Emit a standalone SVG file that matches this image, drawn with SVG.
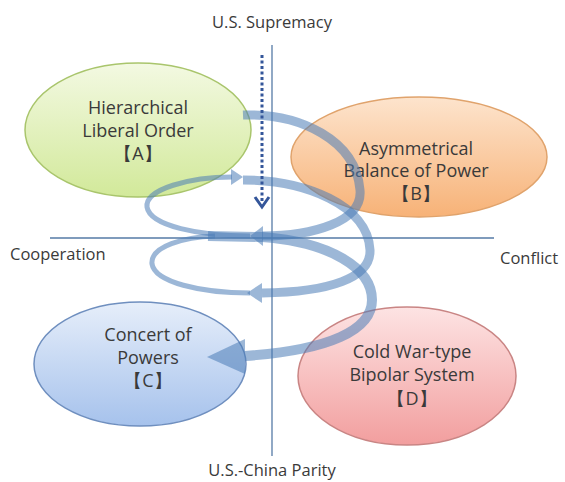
<svg xmlns="http://www.w3.org/2000/svg" width="565" height="482" viewBox="0 0 565 482">
<defs>
<linearGradient id="gA" x1="0" y1="0" x2="0" y2="1"><stop offset="0" stop-color="#f3f9e2"/><stop offset="1" stop-color="#d2e99a"/></linearGradient>
<linearGradient id="gB" x1="0" y1="0" x2="0" y2="1"><stop offset="0" stop-color="#fde4cd"/><stop offset="1" stop-color="#f7b277"/></linearGradient>
<linearGradient id="gC" x1="0" y1="0" x2="0" y2="1"><stop offset="0" stop-color="#e6eefa"/><stop offset="1" stop-color="#a6c2ec"/></linearGradient>
<linearGradient id="gD" x1="0" y1="0" x2="0" y2="1"><stop offset="0" stop-color="#fde3e3"/><stop offset="1" stop-color="#f29e9e"/></linearGradient>
</defs>
<style>
.lbl{font-family:"Open Sans","Liberation Sans",sans-serif;font-size:18px;fill:#3a3a3a;text-anchor:middle}
.ax{font-family:"Open Sans","Liberation Sans",sans-serif;font-size:16.5px;fill:#3a3a3a}
.axis{stroke:#557aa6;stroke-width:1.3;fill:none}
.band{fill:none;stroke:#4a7bb7;stroke-opacity:0.55}
.head{fill:#4a7bb7;fill-opacity:0.55}
</style>
<rect width="565" height="482" fill="#ffffff"/>
<g id="axes">
<line class="axis" x1="272" y1="45" x2="272" y2="456"/>
<line class="axis" x1="50" y1="238" x2="494" y2="238"/>
<text class="ax" x="272" y="28" text-anchor="middle">U.S. Supremacy</text>
<text class="ax" x="272" y="476" text-anchor="middle">U.S.-China Parity</text>
<text class="ax" x="10" y="260">Cooperation</text>
<text class="ax" x="500" y="264">Conflict</text>
</g>
<g id="nodeA">
<ellipse cx="138" cy="130" rx="113" ry="67" fill="url(#gA)" stroke="#a9c56c" stroke-width="1.5"/>
<text class="lbl" x="138" y="114">Hierarchical</text>
<text class="lbl" x="138" y="137">Liberal Order</text>
<text class="lbl" x="138" y="160">【A】</text>
</g>
<g id="nodeB">
<ellipse cx="419" cy="157" rx="128" ry="60" fill="url(#gB)" stroke="#e0a36c" stroke-width="1.5"/>
<text class="lbl" x="416" y="155">Asymmetrical</text>
<text class="lbl" x="416" y="177">Balance of Power</text>
<text class="lbl" x="416" y="200">【B】</text>
</g>
<g id="nodeC">
<ellipse cx="140" cy="364" rx="106" ry="62" fill="url(#gC)" stroke="#6f8fbf" stroke-width="1.5"/>
<text class="lbl" x="148" y="341">Concert of</text>
<text class="lbl" x="148" y="364">Powers</text>
<text class="lbl" x="148" y="387">【C】</text>
</g>
<g id="nodeD">
<ellipse cx="407" cy="376" rx="109" ry="69" fill="url(#gD)" stroke="#c98584" stroke-width="1.5"/>
<text class="lbl" x="412" y="358">Cold War-type</text>
<text class="lbl" x="412" y="381">Bipolar System</text>
<text class="lbl" x="412" y="405">【D】</text>
</g>
<g id="connectors">
<path class="band" stroke-width="9" d="M243,115 C300,113 356,140 360,190 C363,222 312,236 262,236"/>
<polygon class="head" points="250,236 263,226 263,246"/>
<path class="band" stroke-width="5" d="M250,236 C200,236 150,226 147,207 C145,189 190,177 232,177"/>
<polygon class="head" points="243,177 231,169 231,185"/>
<path class="band" stroke-width="9" d="M243,180 C305,180 368,205 370,250 C371,278 330,292 262,293"/>
<polygon class="head" points="247,293 262,283 262,303"/>
<path class="band" stroke-width="5" d="M250,293 C200,293 155,282 152,264 C150,246 185,237 215,236"/>
<path class="band" stroke-width="10" d="M208,236 L262,237 C330,242 372,268 372,300 C372,330 330,350 245,356"/>
<polygon class="head" points="207,357 245,339 245,374"/>
<line x1="262" y1="55" x2="262" y2="203" stroke="#34569a" stroke-width="3" stroke-dasharray="3,2.5"/>
<polyline points="255,197 262,207 269,197" fill="none" stroke="#34569a" stroke-width="3"/>
</g>
</svg>
